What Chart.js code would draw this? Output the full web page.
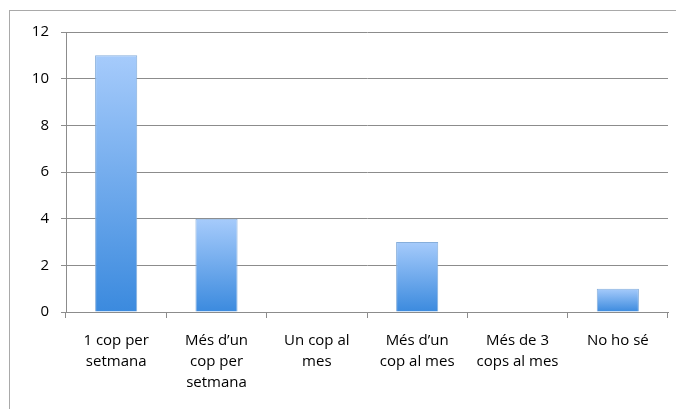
<!DOCTYPE html>
<html>
<head>
<meta charset="utf-8">
<script src="https://cdn.jsdelivr.net/npm/chart.js@4"></script>
<style>
  html, body { margin: 0; padding: 0; background: #fff; overflow: hidden; }
  #wrap { position: relative; width: 676px; height: 409px; }
</style>
</head>
<body>
<div id="wrap"><canvas id="chart" width="676" height="409"></canvas></div>
<script>
// ── data ──
const categories = [
  ['1 cop per', 'setmana'],
  ['Més d\u2019un', 'cop per', 'setmana'],
  ['Un cop al', 'mes'],
  ['Més d\u2019un', 'cop al mes'],
  ['Més de 3', 'cops al mes'],
  ['No ho sé'],
];
const counts = [11, 4, 0, 3, 0, 1];
const yTicks = [0, 2, 4, 6, 8, 10, 12];

// each bar gets its own vertical gradient: light at its top, deeper at the base
function barGradient(ctx) {
  const chart = ctx.chart;
  const area = chart.chartArea;
  if (!area || ctx.type !== 'data') return '#6aa8ee';
  const yScale = chart.scales.y;
  const top = yScale.getPixelForValue(ctx.raw);
  const bottom = yScale.getPixelForValue(0);
  if (bottom - top < 1) return '#3b8ade';
  const g = chart.ctx.createLinearGradient(0, top, 0, bottom);
  g.addColorStop(0, '#a6cbfb');
  g.addColorStop(1, '#3b8ade');
  return g;
}

// thin grey frame round the whole chart, as in the reference
const framePlugin = {
  id: 'frame',
  beforeDraw(chart) {
    const c = chart.ctx;
    c.save();
    c.fillStyle = '#fff';
    c.fillRect(0, 0, chart.width, chart.height);
    c.strokeStyle = '#a9a9a9';
    c.lineWidth = 1;
    c.strokeRect(9.5, 10.5, chart.width + 20, chart.height + 20);
    c.restore();
  },
};

const font = { family: '"Open Sans", sans-serif', size: 15, lineHeight: 1.4 };

new Chart(document.getElementById('chart'), {
  type: 'bar',
  data: {
    labels: categories,
    datasets: [{
      data: counts,
      backgroundColor: barGradient,
      borderColor: '#86aedb',
      borderWidth: 1,
      categoryPercentage: 0.42,
      barPercentage: 1,
    }],
  },
  plugins: [framePlugin],
  options: {
    responsive: false,
    animation: false,
    layout: { padding: { left: 10, right: 8, top: 32, bottom: 0 } },
    plugins: { legend: { display: false }, tooltip: { enabled: false } },
    scales: {
      x: {
        grid: { offset: true, drawOnChartArea: false, drawTicks: true, tickLength: 6, color: '#8c8c8c' },
        border: { color: '#8c8c8c' },
        ticks: { color: '#000', font, padding: 12, maxRotation: 0, autoSkip: false },
        afterFit(scale) { scale.height = 97; },
      },
      y: {
        min: 0, max: 12,
        afterBuildTicks(scale) { scale.ticks = yTicks.map(v => ({ value: v })); },
        grid: { color: '#8c8c8c', tickLength: 5 },
        border: { color: '#8c8c8c' },
        ticks: { color: '#000', font: { family: '"Open Sans", sans-serif', size: 15 }, padding: 12 },
        afterFit(scale) { scale.width = 56; },
      },
    },
  },
});
</script>
</body>
</html>
